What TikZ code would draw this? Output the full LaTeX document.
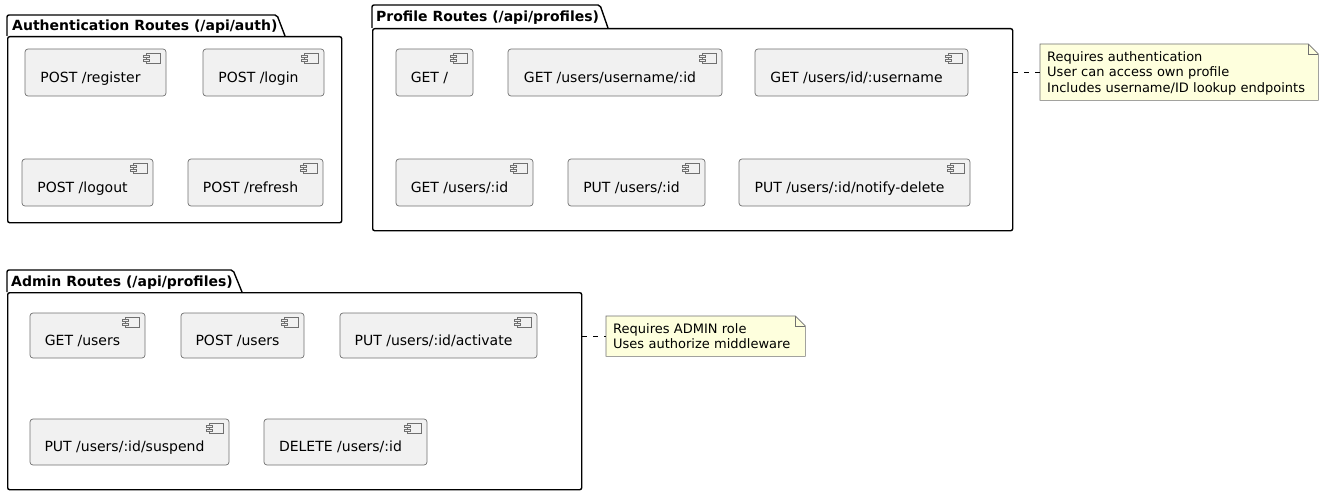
\documentclass[tikz,border=0pt]{standalone}
\usepackage{fontspec}
\setmainfont{DejaVu Sans}
\usetikzlibrary{calc, backgrounds}

\definecolor{compfill}{HTML}{F1F1F1}
\definecolor{compline}{HTML}{707070}
\definecolor{notefill}{HTML}{FEFFDD}

\begin{document}
\begin{tikzpicture}[x=1pt, y=-1pt]
\tikzstyle{pkg} = [draw=black, line width=1.4pt, rounded corners=2pt]
\tikzstyle{title} = [anchor=base west, inner sep=0, font=\fontsize{14pt}{16pt}\selectfont\bfseries]
\tikzstyle{comp} = [rectangle, rounded corners=3pt, draw=compline, fill=compfill, line width=0.7pt,
                    inner sep=0, minimum height=47pt, text height=23pt, text depth=4pt,
                    font=\fontsize{14pt}{16pt}\selectfont, execute at begin node={\kern-10pt}]
\tikzstyle{icon} = [draw=compline, line width=0.6pt, fill=compfill]
\tikzstyle{note} = [anchor=north west, inner xsep=7pt, inner ysep=0pt, text height=17pt, align=left,
                    font=\fontsize{13pt}{15.5pt}\selectfont]
\tikzstyle{notebox} = [draw=compline, fill=notefill, line width=0.6pt]
\tikzstyle{link} = [draw=black, line width=0.8pt, dash pattern=on 5pt off 6pt]

\useasboundingbox (0,0) rectangle (1324,495);

% packages
\node[pkg, anchor=north west, minimum width=334pt, minimum height=186pt] (auth) at (7,36) {};
\draw[pkg] (7,36) |- (277,15) -- (285,36);
\node[title] (authtitle) at (12,30.5) {Authentication Routes (/api/auth)};

\node[pkg, anchor=north west, minimum width=640pt, minimum height=202pt] (profile) at (372,28) {};
\draw[pkg] (372,28) |- (600,5) -- (608,28);
\node[title] (profiletitle) at (376,21.5) {Profile Routes (/api/profiles)};

\node[pkg, anchor=north west, minimum width=574pt, minimum height=197pt] (admin) at (7,292) {};
\draw[pkg] (7,292) |- (233,270) -- (242,292);
\node[title] (admintitle) at (11,286) {Admin Routes (/api/profiles)};

% auth routes
\node[comp, minimum width=141pt] (register) at (95.5,72.5) {POST /register};
\node[comp, minimum width=121pt] (login) at (263.5,72.5) {POST /login};
\node[comp, minimum width=131pt] (logout) at (87.5,182.5) {POST /logout};
\node[comp, minimum width=135pt] (refresh) at (255.5,182.5) {POST /refresh};

% profile routes
\node[comp, minimum width=77pt] (root) at (434.5,72.5) {GET /};
\node[comp, minimum width=214pt] (byname) at (615,72.5) {GET /users/username/:id};
\node[comp, minimum width=213pt] (byid) at (861.5,72.5) {GET /users/id/:username};
\node[comp, minimum width=137pt] (getuser) at (464.5,182.5) {GET /users/:id};
\node[comp, minimum width=137pt] (putuser) at (636.5,182.5) {PUT /users/:id};
\node[comp, minimum width=231pt] (notify) at (854.5,182.5) {PUT /users/:id/notify-delete};

% admin routes
\node[comp, minimum width=115pt, minimum height=45pt] (listusers) at (87.5,335.5) {GET /users};
\node[comp, minimum width=123pt, minimum height=45pt] (createuser) at (242.5,335.5) {POST /users};
\node[comp, minimum width=197pt, minimum height=45pt] (activate) at (438.5,335.5) {PUT /users/:id/activate};
\node[comp, minimum width=199pt, minimum height=46pt] (suspend) at (129.5,442) {PUT /users/:id/suspend};
\node[comp, minimum width=163pt, minimum height=46pt] (deleteuser) at (345.5,442) {DELETE /users/:id};

\foreach \c in {register,login,logout,refresh,root,byname,byid,getuser,putuser,notify,
                listusers,createuser,activate,suspend,deleteuser} {
  \draw[icon] ($(\c.north east)+(-20,5)$) rectangle ++(14,10);
  \draw[icon] ($(\c.north east)+(-23,7)$) rectangle ++(6,2);
  \draw[icon] ($(\c.north east)+(-23,11)$) rectangle ++(6,2);
}

% notes
\node[note, text width=264pt, text depth=39pt] (profilenote) at (1040,44)
  {Requires authentication\\User can access own profile\\Includes username/ID lookup endpoints};
\node[note, text width=185pt, text depth=23pt] (adminnote) at (606,316)
  {Requires ADMIN role\\Uses authorize middleware};

\begin{scope}[on background layer]
\foreach \n in {profilenote,adminnote} {
  \path[notebox] (\n.north west) -- ($(\n.north east)+(-10,0)$) -- ($(\n.north east)+(0,10)$)
    -- (\n.south east) -- (\n.south west) -- cycle;
  \draw[notebox, fill=none] ($(\n.north east)+(-10,0)$) |- ($(\n.north east)+(0,10)$);
}
\end{scope}

\draw[link] (profilenote.west -| profile.east) -- (profilenote.west);
\draw[link] (adminnote.west -| admin.east) -- (adminnote.west);
\end{tikzpicture}
\end{document}
